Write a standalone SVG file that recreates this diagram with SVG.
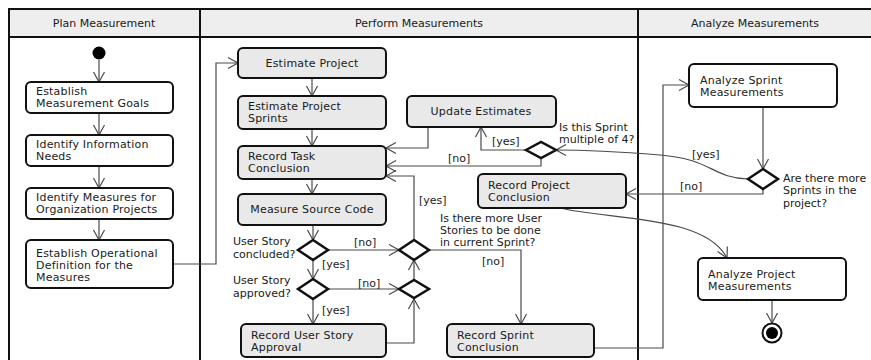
<svg xmlns="http://www.w3.org/2000/svg" width="871" height="360" viewBox="0 0 871 360">
<style>
text{font-family:"DejaVu Sans","Liberation Sans",sans-serif;font-size:11px;fill:#1a1a1a}
.hd{font-size:11px;text-anchor:middle}
.c{text-anchor:middle}
.t{letter-spacing:0.2px}
.n{fill:#fff;stroke:#111;stroke-width:2}
.g{fill:#e9e9e9;stroke:#111;stroke-width:2}
.d{fill:#fff;stroke:#111;stroke-width:2.5;stroke-linejoin:miter}
.e{fill:none;stroke:#4a4a4a;stroke-width:1.2;marker-end:url(#a)}
.lane{fill:none;stroke:#111;stroke-width:2}
</style>
<defs>
<marker id="a" markerUnits="userSpaceOnUse" markerWidth="14" markerHeight="14" viewBox="-11 -7 12 14" refX="0" refY="0" orient="auto">
<path d="M-10,-5.5 L0,0 L-10,5.5" fill="none" stroke="#4a4a4a" stroke-width="1.2"/>
</marker>
</defs>
<g id="lanes">
<rect x="9" y="9" width="870" height="28" fill="#eeeeee"/>
<path class="lane" d="M9,370 L9,9 L880,9 M9,37 L880,37 M200,9 L200,370 M638,9 L638,370"/>
<text class="hd" x="104" y="27">Plan Measurement</text>
<text class="hd" x="419" y="27">Perform Measurements</text>
<text class="hd" x="755" y="27">Analyze Measurements</text>
</g>
<g id="connectors">
<path class="e" d="M99,60 L99,82"/>
<path class="e" d="M99,113 L99,135"/>
<path class="e" d="M99,166 L99,188"/>
<path class="e" d="M99,219 L99,240"/>
<path class="e" d="M173,264 L216,264 L216,63 L238,63"/>
<path class="e" d="M312,78 L312,96"/>
<path class="e" d="M312,129 L312,146"/>
<path class="e" d="M312,179 L312,194"/>
<path class="e" d="M313,225 L313,240"/>
<path class="e" d="M313,260 L313,279"/>
<path class="e" d="M313,299 L313,324"/>
<path class="e" d="M328,250 L399,250"/>
<path class="e" d="M328,289 L399,289"/>
<path class="e" d="M386,343 L414,343 L414,299"/>
<path class="e" d="M414,279 L414,260"/>
<path class="e" d="M414,240 L414,176 L386,176"/>
<path class="e" d="M429,250 L521,250 L521,324"/>
<path class="e" d="M594,348 L663,348 L663,85 L689,85"/>
<path class="e" d="M763,107 L763,169"/>
<path class="e" d="M763,189 L763,194 L626,194"/>
<path class="e" d="M748,179 C712,178 712,159 660,155 C610,151 585,150 556,150"/>
<path class="e" d="M526,150 L481,150 L481,127"/>
<path class="e" d="M541,158 L541,166 L386,166"/>
<path class="e" d="M428,127 L428,148 L386,148"/>
<path class="e" d="M560,208 C610,220 705,215 727,258"/>
<path class="e" d="M772,300 L772,323"/>
<text x="322" y="268">[yes]</text>
<text x="322" y="314">[yes]</text>
<text x="354" y="246">[no]</text>
<text x="358" y="287">[no]</text>
<text x="419" y="204">[yes]</text>
<text x="482" y="265">[no]</text>
<text x="492" y="145">[yes]</text>
<text x="448" y="162">[no]</text>
<text x="692" y="158">[yes]</text>
<text x="680" y="190">[no]</text>
</g>
<g id="start"><circle cx="99" cy="53" r="6.5" fill="#000"/></g>
<g id="goals" class="t"><rect class="n" x="26" y="82" width="147" height="31" rx="5"/><text x="36" y="95">Establish</text><text x="36" y="107">Measurement Goals</text></g>
<g id="needs" class="t"><rect class="n" x="26" y="135" width="147" height="31" rx="5"/><text x="36" y="148">Identify Information</text><text x="36" y="160">Needs</text></g>
<g id="measures" class="t"><rect class="n" x="26" y="188" width="147" height="31" rx="5"/><text x="36" y="201">Identify Measures for</text><text x="36" y="213">Organization Projects</text></g>
<g id="operational" class="t"><rect class="n" x="26" y="240" width="147" height="48" rx="5"/><text x="36" y="257">Establish Operational</text><text x="36" y="269">Definition for the</text><text x="36" y="281">Measures</text></g>
<g id="estimate" class="t"><rect class="g" x="238" y="48" width="148" height="30" rx="5"/><text class="c" x="312" y="67">Estimate Project</text></g>
<g id="sprints" class="t"><rect class="g" x="238" y="96" width="148" height="33" rx="5"/><text x="248" y="110">Estimate Project</text><text x="248" y="122">Sprints</text></g>
<g id="task" class="t"><rect class="g" x="238" y="146" width="148" height="33" rx="5"/><text x="248" y="160">Record Task</text><text x="248" y="172">Conclusion</text></g>
<g id="source" class="t"><rect class="g" x="238" y="194" width="148" height="31" rx="5"/><text class="c" x="312" y="213">Measure Source Code</text></g>
<g id="concluded"><path class="d" d="M298,250 L313,240 L328,250 L313,260 Z"/><text x="233" y="245">User Story</text><text x="233" y="257.5">concluded?</text></g>
<g id="approved"><path class="d" d="M298,289 L313,279 L328,289 L313,299 Z"/><text x="233" y="284">User Story</text><text x="233" y="296.5">approved?</text></g>
<g id="usapproval" class="t"><rect class="g" x="241" y="324" width="145" height="33" rx="5"/><text x="251" y="339">Record User Story</text><text x="251" y="351">Approval</text></g>
<g id="moreus"><path class="d" d="M399,250 L414,240 L429,250 L414,260 Z"/><text x="440" y="222">Is there more User</text><text x="440" y="234">Stories to be done</text><text x="440" y="246">in current Sprint?</text></g>
<g id="merge"><path class="d" d="M399,289 L414,280 L429,289 L414,298 Z"/></g>
<g id="update" class="t"><rect class="g" x="407" y="96" width="149" height="31" rx="5"/><text class="c" x="481" y="115">Update Estimates</text></g>
<g id="multiple"><path class="d" d="M526,150 L541,142 L556,150 L541,158 Z"/><text x="559" y="131">Is this Sprint</text><text x="559" y="143">multiple of 4?</text></g>
<g id="project" class="t"><rect class="g" x="478" y="174" width="148" height="34" rx="5"/><text x="488" y="189">Record Project</text><text x="488" y="201">Conclusion</text></g>
<g id="sprintconc" class="t"><rect class="g" x="447" y="324" width="147" height="33" rx="5"/><text x="457" y="339">Record Sprint</text><text x="457" y="351">Conclusion</text></g>
<g id="analyzesprint" class="t"><rect class="n" x="689" y="64" width="148" height="43" rx="5"/><text x="700" y="84">Analyze Sprint</text><text x="700" y="96">Measurements</text></g>
<g id="moresprints"><path class="d" d="M748,179 L763,169 L778,179 L763,189 Z"/><text x="783" y="182">Are there more</text><text x="783" y="194">Sprints in the</text><text x="783" y="207">project?</text></g>
<g id="analyzeproject" class="t"><rect class="n" x="698" y="258" width="148" height="42" rx="5"/><text x="708" y="278">Analyze Project</text><text x="708" y="290">Measurements</text></g>
<g id="end"><circle cx="772" cy="333" r="9.5" fill="#fff" stroke="#111" stroke-width="2"/><circle cx="772" cy="333" r="6" fill="#000"/></g>
</svg>
